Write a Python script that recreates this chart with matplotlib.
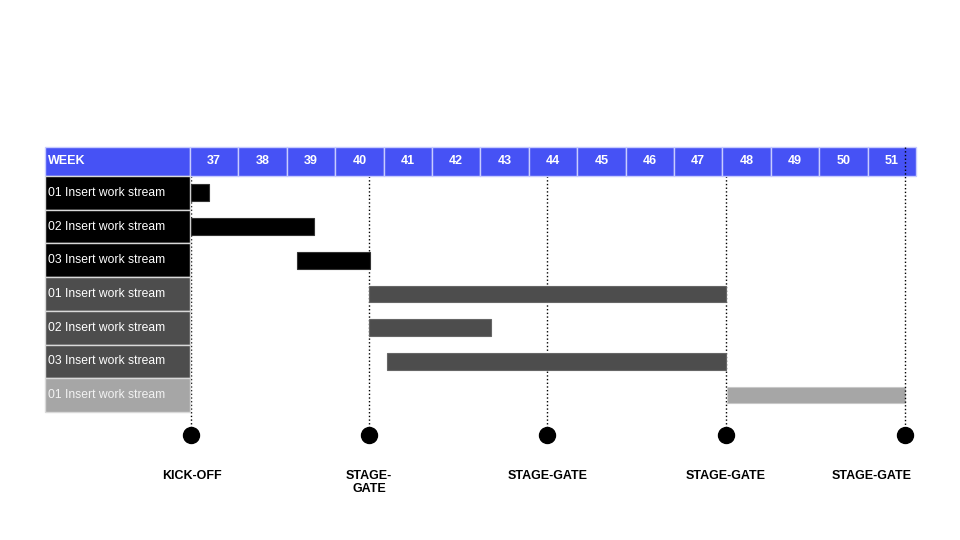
import matplotlib
matplotlib.use('Agg')
import matplotlib.pyplot as plt
from matplotlib.patches import Rectangle

plt.rcParams['font.family'] = ['Liberation Sans', 'DejaVu Sans']

# Dữ liệu (đơn vị: tuần, 0 = đầu tuần 37)
weeks = [37, 38, 39, 40, 41, 42, 43, 44, 45, 46, 47, 48, 49, 50, 51]
tasks = ['01 Insert work stream', '02 Insert work stream', '03 Insert work stream',
         '01 Insert work stream', '02 Insert work stream', '03 Insert work stream',
         '01 Insert work stream']
groups = [0, 0, 0, 1, 1, 1, 2]
starts = [0.03, 0.03, 2.22, 3.7, 3.7, 4.07, 11.1]
ends = [0.39, 2.56, 3.71, 11.07, 6.22, 11.07, 14.77]
milestones = [0.03, 3.7, 7.38, 11.07, 14.77]
milestone_labels = ['KICK-OFF', 'STAGE-\nGATE', 'STAGE-GATE', 'STAGE-GATE', 'STAGE-GATE']

group_colors = ['#000000', '#4d4d4d', '#a6a6a6']
bar_edges = ['#333333', '#666666', '#c8c8c8']
header_color = '#4652f5'

# Khung vẽ: 1 tuần = 48.4 px, 1 hàng = 33.7 px
wpx, rpx = 48.4, 33.7
fig = plt.figure(figsize=(9.6, 5.4), dpi=100)
ax = fig.add_axes([0, 0, 1, 1])
ax.set_xlim(-190 / wpx, 770 / wpx)
ax.set_ylim((540 - 176) / rpx, -176 / rpx)
ax.axis('off')

head_top = -29 / rpx

# Hàng tiêu đề
ax.add_patch(Rectangle((-3, head_top), 3, -head_top, facecolor=header_color,
                       edgecolor='#c8ccff', lw=1, zorder=3))
ax.text(-2.93, head_top / 2, 'WEEK', color='white', fontsize=9, fontweight='bold',
        ha='left', va='center', zorder=4)
for i, w in enumerate(weeks):
    ax.add_patch(Rectangle((i, head_top), 1, -head_top, facecolor=header_color,
                           edgecolor='#c8ccff', lw=1, zorder=3))
    ax.text(i + 0.5, head_top / 2, str(w), color='white', fontsize=9, fontweight='bold',
            ha='center', va='center', zorder=4)

# Cột nhãn + thanh Gantt
for i, (name, g, s, e) in enumerate(zip(tasks, groups, starts, ends)):
    ax.add_patch(Rectangle((-3, i), 3, 1, facecolor=group_colors[g],
                           edgecolor='#d9d9d9', lw=1, zorder=3))
    ax.text(-2.93, i + 0.5, name, color='white' if g < 2 else '#f2f2f2', fontsize=8.7,
            ha='left', va='center', zorder=4)
    ax.barh(i + 0.5, e - s, left=s, height=0.5, color=group_colors[g],
            edgecolor=bar_edges[g], lw=0.8, zorder=3)

# Mốc (milestone)
dot_y = (435 - 176) / rpx
for k, (m, lab) in enumerate(zip(milestones, milestone_labels)):
    last = k == len(milestones) - 1
    ax.vlines(m, head_top if last else 0, dot_y, colors='black', linestyles=':',
              lw=1, zorder=5 if last else 2)
    ax.plot(m, dot_y, 'o', color='black', ms=11.5, zorder=5)
    ax.annotate(lab, (m, (470 - 176) / rpx), xytext=(-24 if last else 0, 0),
                textcoords='offset points', ha='center', va='top', fontsize=9,
                fontweight='bold', linespacing=1.15)

fig.savefig('out.png', dpi=100)
